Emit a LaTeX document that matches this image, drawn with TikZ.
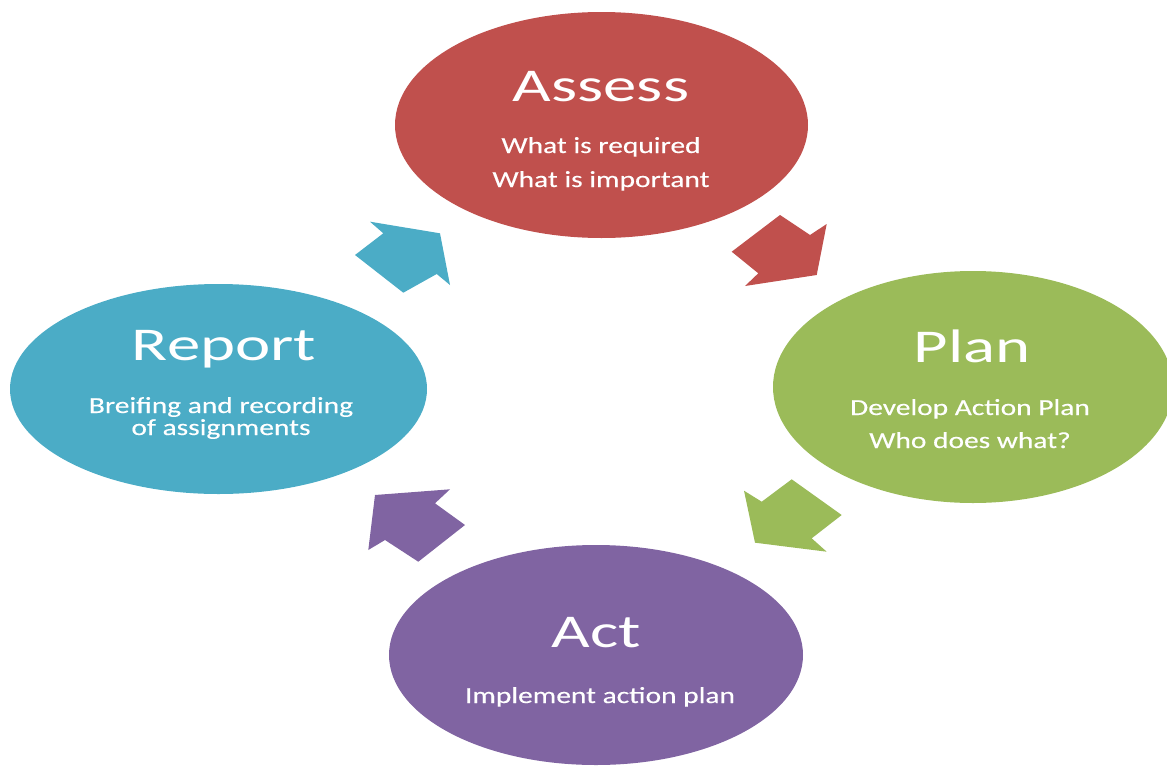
\documentclass[tikz,border=0pt]{standalone}
\usepackage{fontspec}
\setmainfont{Carlito}
\newfontfamily\headfont[FakeStretch=1.42]{Carlito}
\newfontfamily\notefont[FakeStretch=1.28,FakeBold=0.3]{Carlito}
\usetikzlibrary{shapes.geometric}

\definecolor{assessred}{RGB}{192,80,77}
\definecolor{plangreen}{RGB}{155,187,89}
\definecolor{reportblue}{RGB}{75,172,198}
\definecolor{actpurple}{RGB}{128,100,162}

\begin{document}
\begin{tikzpicture}[x=1pt,y=-1pt,
  phase/.style={ellipse, fill=#1, draw=none, inner sep=0pt, outer sep=0pt},
  title/.style={text=white, anchor=base, inner sep=0pt, font=\headfont\fontsize{47}{50}\selectfont},
  note/.style={text=white, anchor=base, inner sep=0pt, font=\notefont\fontsize{23}{26}\selectfont},
  cyclearrow/.style={fill=#1, draw=none}]
\useasboundingbox (0,0) rectangle (1167,766);

% the four phases of the cycle
\node[phase=assessred,  minimum width=413pt, minimum height=226pt] (assess) at (601.5,125) {};
\node[phase=plangreen,  minimum width=400pt, minimum height=232pt] (plan)   at (973,387) {};
\node[phase=reportblue, minimum width=417pt, minimum height=210pt] (report) at (218.5,389) {};
\node[phase=actpurple,  minimum width=414pt, minimum height=220pt] (act)    at (596,655) {};

% headings and descriptions
\node[title] (assesstitle) at (601,101) {Assess};
\node[note]  (assessl1)    at (601,153) {What is required};
\node[note]  (assessl2)    at (601,187) {What is important};

\node[title] (plantitle) at (972,362) {Plan};
\node[note]  (planl1)    at (970,415) {Develop Action Plan};
\node[note]  (planl2)    at (970,448) {Who does what?};

\node[title] (reporttitle) at (224,360) {Report};
\node[note]  (reportl1)    at (221,413) {Breifing and recording};
\node[note]  (reportl2)    at (221,435) {of assignments};

\node[title] (acttitle) at (596,647) {Act};
\node[note]  (actl1)    at (600,703) {Implement action plan};

% block arrows between the phases
\fill[cyclearrow=assessred] (780,215) -- (810,235) -- (826.7,224) -- (816.7,275)
  -- (745,286) -- (758.3,273.3) -- (731.7,251.7) -- cycle;
\fill[cyclearrow=plangreen] (791.7,479.3) -- (841.7,515) -- (811.7,538.3) -- (826.7,551.7)
  -- (755,542.7) -- (744,490.7) -- (761.7,501.7) -- cycle;
\fill[cyclearrow=actpurple] (375,495) -- (450,489.3) -- (435,503.3) -- (465,525)
  -- (418.3,561.7) -- (385,540) -- (368.3,550) -- cycle;
\fill[cyclearrow=reportblue] (355,255) -- (403.3,292.7) -- (436.7,274) -- (450,285)
  -- (440,233.3) -- (370,221.7) -- (383.3,233.3) -- cycle;
\end{tikzpicture}
\end{document}
